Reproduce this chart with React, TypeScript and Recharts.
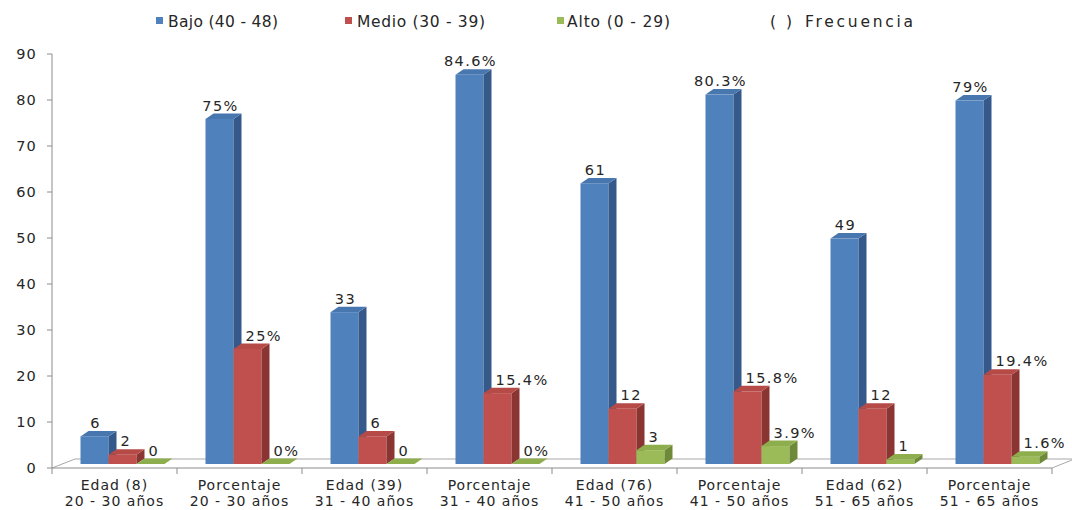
import React from 'react';
import { BarChart, Bar, XAxis, YAxis, LabelList, Customized } from 'recharts';

// Category labels (two lines) and the unit appended to each group's value labels
const categoriesTop = ['Edad (8)', 'Porcentaje', 'Edad (39)', 'Porcentaje', 'Edad (76)', 'Porcentaje', 'Edad (62)', 'Porcentaje'];
const categoriesBottom = ['20 - 30 años', '20 - 30 años', '31 - 40 años', '31 - 40 años', '41 - 50 años', '41 - 50 años', '51 - 65 años', '51 - 65 años'];
const valueSuffix = ['', '%', '', '%', '', '%', '', '%'];

// Series values
const bajo = [6, 75, 33, 84.6, 61, 80.3, 49, 79];
const medio = [2, 25, 6, 15.4, 12, 15.8, 12, 19.4];
const alto = [0, 0, 0, 0, 3, 3.9, 1, 1.6];

const seriesNames = ['Bajo (40 - 48)', 'Medio (30 - 39)', 'Alto (0 - 29)'];
const legendNoteMark = '( )';
const legendNoteText = 'Frecuencia';
const yTicks = [0, 10, 20, 30, 40, 50, 60, 70, 80, 90];

const data = categoriesTop.map((c, i) => ({
  name: `${c} ${categoriesBottom[i]}`,
  bajo: bajo[i],
  medio: medio[i],
  alto: alto[i],
}));

// Layout
const W = 1072;
const H = 510;
const MARGIN = { top: 54, right: 20, bottom: 0, left: 0 };
const Y_AXIS_W = 52;
const X_AXIS_H = 42;
const PLOT_LEFT = MARGIN.left + Y_AXIS_W;
const PLOT_RIGHT = W - MARGIN.right;
const BASE_Y = H - MARGIN.bottom - X_AXIS_H;
const BAND = (PLOT_RIGHT - PLOT_LEFT) / categoriesTop.length;

// 3D extrusion of the bars
const DX = 8;
const DY = 5.5;
const SHIFT_X = 7.5;
const LIFT = 4;

const FONT = '"DejaVu Sans", Verdana, sans-serif';
const TEXT = '#262626';
const AXIS = '#8c8c8c';

const palette = {
  bajo: { front: '#4F81BD', side: '#34598A', top: '#4877B0', legend: '#4F81BD' },
  medio: { front: '#C0504D', side: '#8A3532', top: '#B54A47', legend: '#C0504D' },
  alto: { front: '#9BBB59', side: '#6E8A38', top: '#8EAE4E', legend: '#9BBB59' },
};

type Face = { front: string; side: string; top: string };

const makeShape = (face: Face) => (props: any) => {
  const { x, y, width, height } = props;
  if (x == null || y == null) return null;
  const fx = x + SHIFT_X;
  const fy = y - LIFT;
  const w = width;
  const h = Math.max(height || 0, 0);
  const top = `M${fx},${fy} L${fx + DX},${fy - DY} L${fx + w + DX},${fy - DY} L${fx + w},${fy} Z`;
  const side = `M${fx + w},${fy} L${fx + w + DX},${fy - DY} L${fx + w + DX},${fy + h - DY} L${fx + w},${fy + h} Z`;
  return (
    <g>
      <rect x={fx} y={fy} width={w} height={h} fill={face.front} />
      <path d={side} fill={face.side} />
      <path d={top} fill={face.top} />
    </g>
  );
};

// Value labels: centred over the bar, or pushed right when the bar to the left is taller
const makeLabel = (prev: number[] | null) => (props: any) => {
  const { x, y, width, index, value } = props;
  if (x == null || y == null) return null;
  const text = `${value}${valueSuffix[index] ?? ''}`;
  const fx = x + SHIFT_X;
  const baseline = y - LIFT - DY - 3;
  const pushed = prev && prev[index] > value;
  return (
    <text
      x={pushed ? fx + 12 : fx + width / 2 + 1}
      y={baseline}
      textAnchor={pushed ? 'start' : 'middle'}
      fill={TEXT}
      fontFamily={FONT}
      fontSize={14.5}
      letterSpacing={1.4}
    >
      {text}
    </text>
  );
};

const CategoryTick = (props: any) => {
  const { x, y, index } = props;
  const half = BAND / 2;
  return (
    <g>
      {index === 0 && <line x1={x - half} y1={y} x2={x - half} y2={y + 6} stroke={AXIS} />}
      <line x1={x + half} y1={y} x2={x + half} y2={y + 6} stroke={AXIS} />
      <text x={x} y={y + 22} textAnchor="middle" fill={TEXT} fontFamily={FONT} fontSize={14} letterSpacing={1}>
        {categoriesTop[index]}
      </text>
      <text x={x} y={y + 38} textAnchor="middle" fill={TEXT} fontFamily={FONT} fontSize={14} letterSpacing={1}>
        {categoriesBottom[index]}
      </text>
    </g>
  );
};

// Floor of the 3D plot
const Floor = () => (
  <g stroke="#a8a8a8" strokeWidth={1} fill="none">
    <polyline points={`${PLOT_LEFT},${BASE_Y} ${PLOT_LEFT + 23},${BASE_Y - 9} ${W},${BASE_Y - 9}`} />
    <line x1={PLOT_RIGHT} y1={BASE_Y} x2={W} y2={BASE_Y - 8} />
  </g>
);

const legendEntries = [
  { label: seriesNames[0], color: palette.bajo.legend, keyX: 156, textX: 168, len: 110 },
  { label: seriesNames[1], color: palette.medio.legend, keyX: 345, textX: 357, len: 128 },
  { label: seriesNames[2], color: palette.alto.legend, keyX: 557, textX: 567, len: 103 },
];

const LEGEND_FONT = 15.5;

const LegendBar = () => (
  <svg width={W} height={40} style={{ position: 'absolute', left: 0, top: 0 }}>
    {legendEntries.map((e) => (
      <g key={e.label}>
        <rect x={e.keyX} y={17} width={7} height={7} fill={e.color} />
        <text x={e.textX} y={26.5} fill={TEXT} fontFamily={FONT} fontSize={LEGEND_FONT} textLength={e.len} lengthAdjust="spacing">
          {e.label}
        </text>
      </g>
    ))}
    <text x={770} y={26.5} fill={TEXT} fontFamily={FONT} fontSize={LEGEND_FONT} textLength={22} lengthAdjust="spacing">
      {legendNoteMark}
    </text>
    <text x={805} y={26.5} fill={TEXT} fontFamily={FONT} fontSize={LEGEND_FONT} textLength={108} lengthAdjust="spacing">
      {legendNoteText}
    </text>
  </svg>
);

export default function App() {
  return (
    <div style={{ position: 'absolute', left: 0, top: 0, width: W, height: H, background: '#fff' }}>
      <BarChart width={W} height={H} data={data} margin={MARGIN} barGap={0} barSize={28}>
        <Customized component={Floor} />
        <XAxis
          dataKey="name"
          height={X_AXIS_H}
          interval={0}
          tickLine={false}
          tickSize={0}
          tickMargin={0}
          axisLine={{ stroke: AXIS }}
          tick={<CategoryTick />}
        />
        <YAxis
          width={Y_AXIS_W}
          domain={[0, 90]}
          ticks={yTicks}
          interval={0}
          tickSize={5}
          tickMargin={10}
          axisLine={{ stroke: AXIS }}
          tickLine={{ stroke: AXIS }}
          tick={{ fill: TEXT, fontFamily: FONT, fontSize: 14.5, letterSpacing: 1.2 }}
        />
        <Bar dataKey="bajo" isAnimationActive={false} shape={makeShape(palette.bajo)}>
          <LabelList dataKey="bajo" content={makeLabel(null)} />
        </Bar>
        <Bar dataKey="medio" isAnimationActive={false} shape={makeShape(palette.medio)}>
          <LabelList dataKey="medio" content={makeLabel(bajo)} />
        </Bar>
        <Bar dataKey="alto" isAnimationActive={false} shape={makeShape(palette.alto)}>
          <LabelList dataKey="alto" content={makeLabel(medio)} />
        </Bar>
      </BarChart>
      <LegendBar />
    </div>
  );
}
